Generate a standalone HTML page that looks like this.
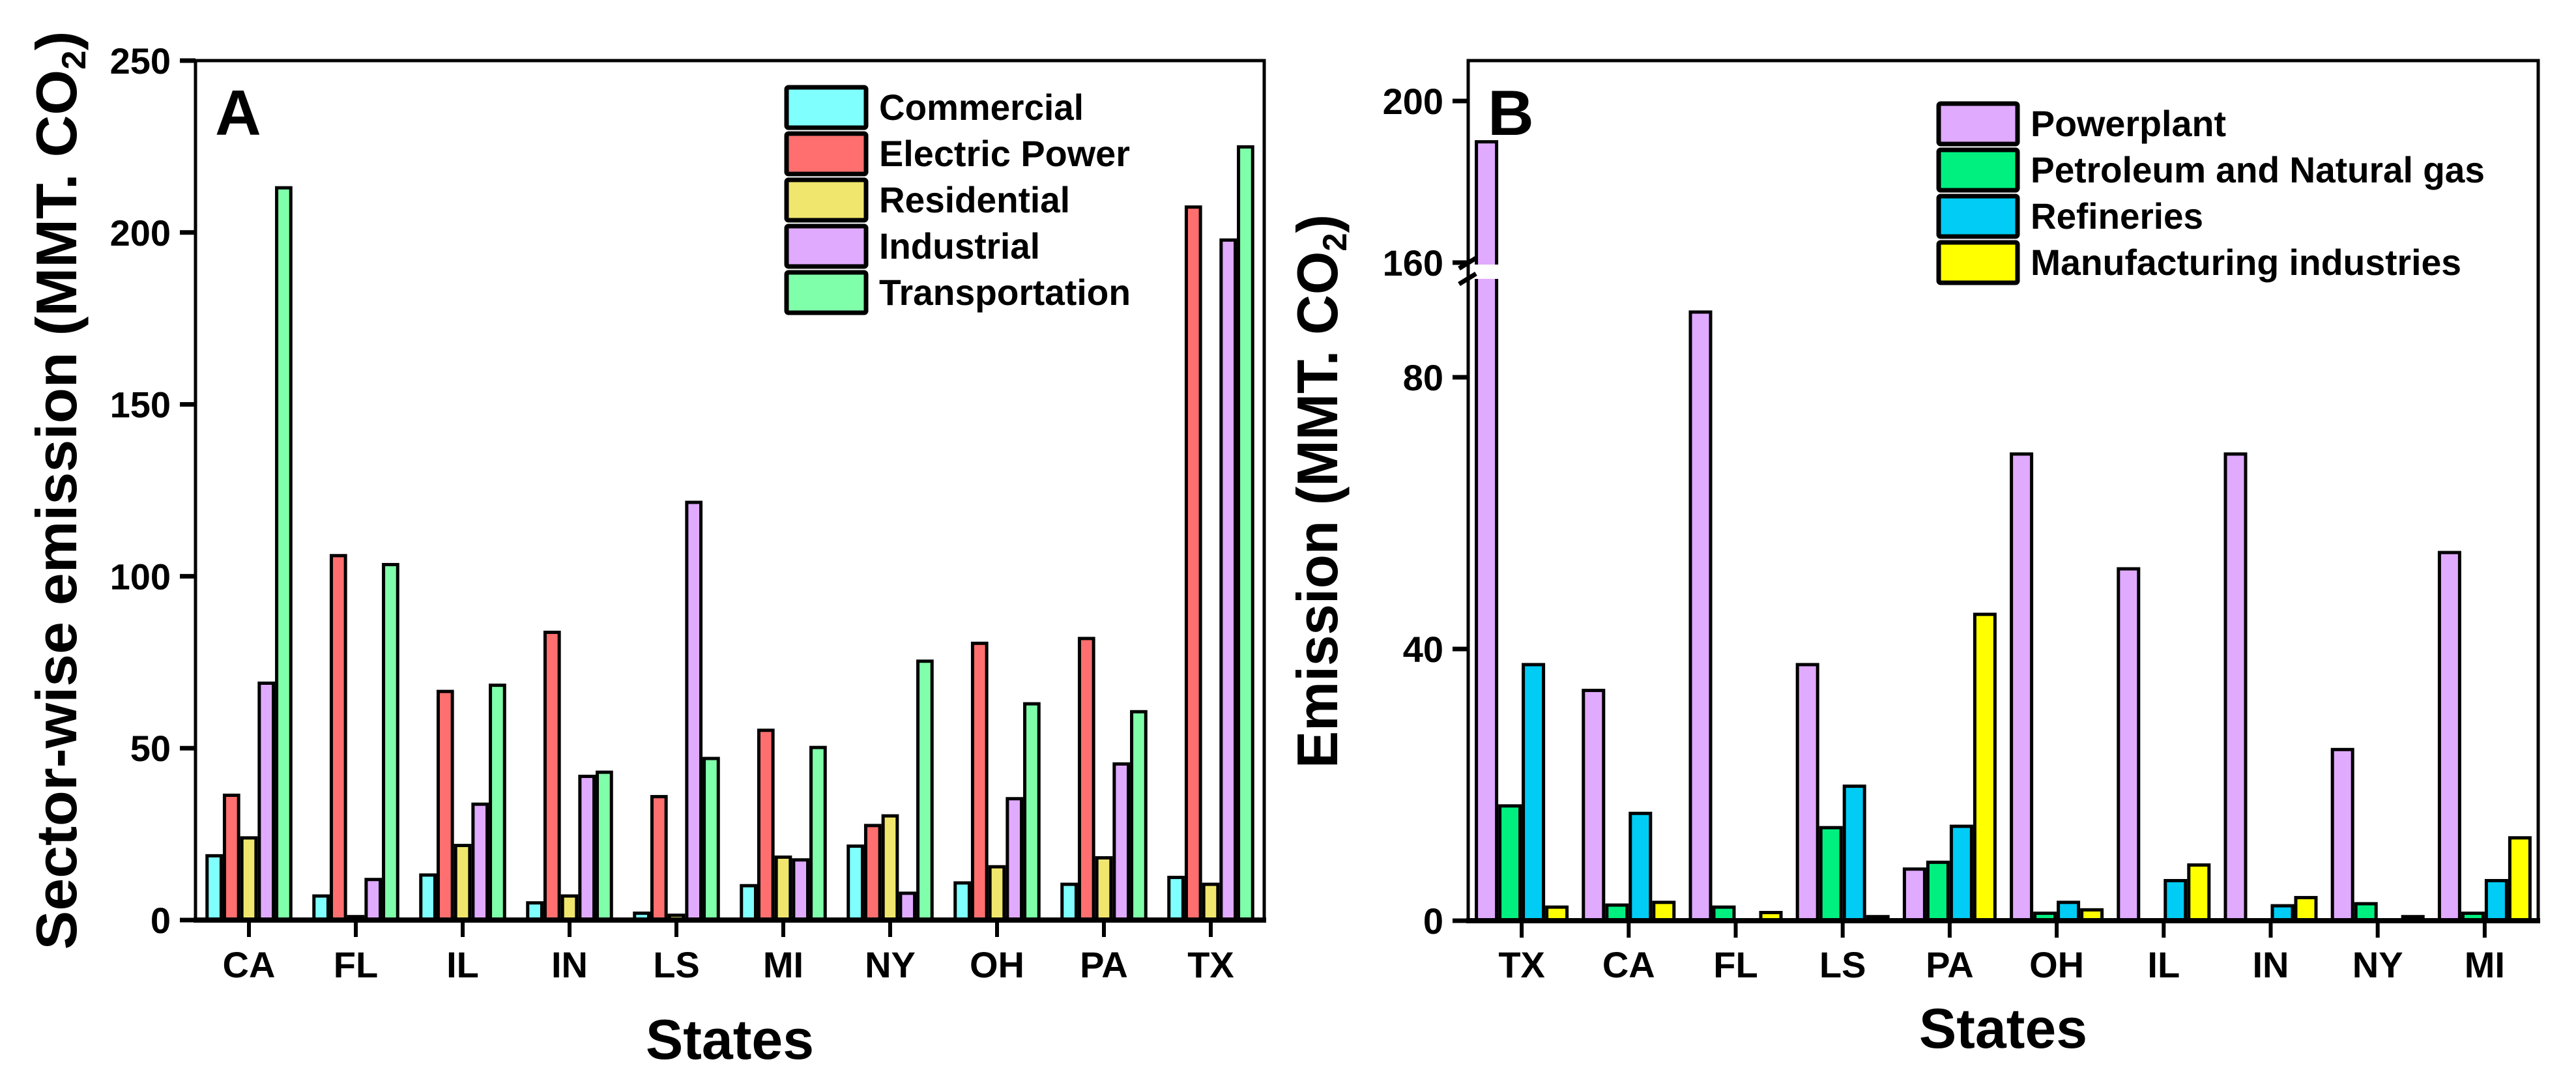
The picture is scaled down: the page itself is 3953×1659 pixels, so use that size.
<!DOCTYPE html>
<html><head><meta charset="utf-8"><style>
html,body{margin:0;padding:0;background:#fff;}
svg{display:block;font-family:"Liberation Sans",Arial,sans-serif;font-weight:bold;}
</style></head><body>
<svg id="chart" width="3953" height="1659" viewBox="0 0 3953 1659" xmlns="http://www.w3.org/2000/svg">
<rect width="3953" height="1659" fill="#fff"/>
<g id="panelA"></g>
<g id="panelB"></g>
</svg>
<script>
// Panel A data
const catsA = ["CA","FL","IL","IN","LS","MI","NY","OH","PA","TX"];
const seriesA = ["Commercial","Electric Power","Residential","Industrial","Transportation"];
const commercialA = [18.7,7.0,13.1,5.0,2.0,10.0,21.5,10.8,10.4,12.4];
const electricA = [36.3,106,66.5,83.7,35.9,55.2,27.5,80.5,81.9,207.4];
const residentialA = [23.9,1.0,21.7,7.0,1.4,18.3,30.3,15.5,18.1,10.4];
const industrialA = [68.9,11.8,33.7,41.8,121.5,17.5,7.8,35.3,45.4,197.8];
const transportA = [213,103.4,68.3,43,47,50.2,75.3,62.9,60.6,224.9];
const ticksA = [0,50,100,150,200,250];
// Panel B data
const catsB = ["TX","CA","FL","LS","PA","OH","IL","IN","NY","MI"];
const seriesB = ["Powerplant","Petroleum and Natural gas","Refineries","Manufacturing industries"];
const powerB = [189.9,33.9,89.6,37.7,7.6,68.7,51.8,68.7,25.2,54.2];
const petroB = [16.9,2.3,2.0,13.7,8.6,1.1,0.1,0,2.5,1.1];
const refinB = [37.7,15.8,0,19.8,13.9,2.7,5.9,2.2,0,5.9];
const manufB = [2.0,2.7,1.2,0.6,45.1,1.6,8.2,3.4,0.6,12.2];
const ticksB = [0,40,80,160,200];

const NS="http://www.w3.org/2000/svg";
function mk(tag,attrs,parent){const e=document.createElementNS(NS,tag);for(const k in attrs)e.setAttribute(k,attrs[k]);parent.appendChild(e);return e;}

function drawPanel(g,o){
  const {L,R,T,B,cats,series,data,colors,ticks,yScale,barW,legX,legY,legTL,legW,letter,title,titleLen,titleX,ytxtLen,breakY}=o;
  const step=(R-L)/cats.length;
  const xc=i=>L+step*(i+0.5);
  const nS=data.length;
  // bars
  data.forEach((arr,s)=>{
    arr.forEach((v,i)=>{
      const x=xc(i)-nS*barW/2+s*barW;
      const y=yScale(v);
      const r=mk('rect',{x:x+2.5,y:y,width:barW-5,height:Math.max(B-y,0),fill:colors[s],stroke:'#000','stroke-width':5},g);
      
      
    });
  });
  if(breakY){
    const w=mk('rect',{x:L-20,y:breakY[0],width:140,height:breakY[1]-breakY[0],fill:'#fff'},g);
    
    
    mk('path',{d:`M${L-14} ${breakY[0]+6} L${L+12} ${breakY[0]-10} M${L-14} ${breakY[1]+8} L${L+12} ${breakY[1]-8}`,stroke:'#000','stroke-width':7,fill:'none'},g);
  }
  // frame
  const f=mk('rect',{x:L,y:T,width:R-L,height:B-T,fill:'none',stroke:'#000','stroke-width':5},g);
  
  
  mk('line',{x1:L-3,y1:B,x2:R+3,y2:B,stroke:'#000','stroke-width':8},g);
  // x ticks
  cats.forEach((c,i)=>{
    mk('line',{x1:xc(i),y1:B,x2:xc(i),y2:B+26,stroke:'#000','stroke-width':6},g);
    const t=mk('text',{x:xc(i),y:1500,'font-size':56,'text-anchor':'middle'},g);
    t.textContent=c;
    
    
  });
  // y ticks
  ticks.forEach(v=>{
    const y=yScale(v);
    mk('line',{x1:L-24,y1:y,x2:L,y2:y,stroke:'#000','stroke-width':7},g);
    const t=mk('text',{x:L-38,y:y+20,'font-size':56,'text-anchor':'end'},g);
    t.textContent=v;
    
    
  });
  // panel letter
  const lt=mk('text',{x:L+30,y:T+114,'font-size':98},g);
  lt.textContent=letter;
  
  
  // legend
  series.forEach((s,k)=>{
    const y=legY+k*71;
    const r=mk('rect',{x:legX,y:y,width:legW,height:62,fill:colors[k],stroke:'#000','stroke-width':7,rx:3},g);
    
    
    const t=mk('text',{x:legX+legW+20,y:y+50,'font-size':56,textLength:legTL[k],lengthAdjust:'spacingAndGlyphs'},g);
    t.textContent=s;
    
    
  });
  // axis titles
  const xt=mk('text',{x:(L+R)/2,y:o.statesY,'font-size':86,'text-anchor':'middle'},g);
  xt.textContent='States';
  
  
  const cy=(T+B)/2+o.titleShift;
  const yt=mk('text',{x:0,y:0,'font-size':88,'text-anchor':'middle',transform:`translate(${titleX},${cy}) rotate(-90)`,textLength:ytxtLen,lengthAdjust:'spacingAndGlyphs'},g);
  yt.innerHTML=title+' (MMT. CO<tspan font-size="52" dy="14">2</tspan><tspan dy="-14">)</tspan>';
  
  
}

const TA=93,BA=1412;
drawPanel(document.getElementById('panelA'),{
  L:300,R:1940,T:TA,B:BA,cats:catsA,series:seriesA,
  data:[commercialA,electricA,residentialA,industrialA,transportA],
  colors:['#80FFFF','#FF6F6F','#F0E66E','#E0AAFF','#80FFAA'],
  ticks:ticksA,yScale:v=>BA-(BA-TA)*v/250,barW:26.7,
  legX:1207,legY:134,legW:122,legTL:[314,385,293,247,386],letter:'A',
  title:'Sector-wise emission',titleX:117,ytxtLen:1410,titleShift:0,statesY:1625
});
const TB=93,BB=1413;
function yB(v){ if(v<=96) return BB-v*(417/40); return 403-(v-160)*(248/40); }
drawPanel(document.getElementById('panelB'),{
  L:2253,R:3895,T:TB,B:BB,cats:catsB,series:seriesB,
  data:[powerB,petroB,refinB,manufB],
  colors:['#E0AAFF','#00F080','#00CCF5','#FFFF00'],
  ticks:ticksB,yScale:yB,barW:36,
  legX:2975,legY:159,legW:121,legTL:[300,697,265,661],letter:'B',
  title:'Emission',titleX:2052,ytxtLen:850,titleShift:1,statesY:1608,breakY:[406,428]
});
</script>
</body></html>
